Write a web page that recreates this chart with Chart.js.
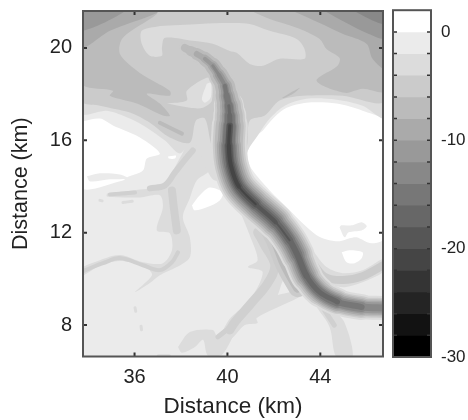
<!DOCTYPE html>
<html><head><meta charset="utf-8">
<script src="https://cdn.jsdelivr.net/npm/chart.js@4"></script>
<style>
html,body{margin:0;padding:0;background:#fff;width:468px;height:420px;overflow:hidden}
.w{position:absolute;filter:blur(.7px)}
</style></head><body>
<div class="w" style="left:0;top:-12px;height:432px;width:390px"><canvas id="map"></canvas></div>
<div class="w" style="left:385px;top:-10px;height:430px;width:83px"><canvas id="bar"></canvas></div>
<script>
const xTicks=[36,40,44], yTicks=[8,12,16,20], barTicks=[0,-10,-20,-30];
const axisTitle="Distance (km)";
const levelTops=[2,0,-2,-4,-6,-8,-10,-12,-14,-16,-18,-20,-22,-24,-26,-28];
const grays=['#ffffff','#ebebeb','#dcdcdc','#cbcbcb','#bbbbbb','#aaaaaa','#999999','#888888','#777777','#676767','#565656','#454545','#343434','#242424','#121212','#000000'];

// contour outlines, all in km
const whiteEast=[[41.52,16.42],[42.04,17.02],[42.55,17.41],[43.41,17.63],[44.70,17.59],[45.82,17.28],[46.8,16.76],[46.8,11.80],[46.21,11.54],[45.56,11.80],[45.26,11.76],[44.83,11.63],[44.27,11.71],[43.84,11.89],[43.24,12.41],[42.55,13.10],[41.82,13.83],[41.09,14.69],[40.88,15.13],[40.88,15.56],[41.18,16.12],[41.52,16.42]];
const whiteWest=[[33.7,16.81],[34.51,16.94],[35.07,16.64],[36.23,16.12],[37.09,15.43],[36.53,15.21],[36.36,14.69],[35.67,14.39],[35.50,14.26],[33.7,13.96],[33.7,16.81]];
const stripeWest=[[33.95,14.44],[34.51,14.57],[35.37,14.52],[35.72,14.35],[34.94,14.31],[34.08,14.22],[33.95,14.44]];
const spotWest=[[37.44,15.30],[37.78,15.34],[37.74,15.21],[37.48,15.21],[37.44,15.30]];
const blobCentre=[[38.47,13.18],[38.81,13.62],[39.24,13.96],[39.80,13.74],[39.67,13.40],[39.11,13.10],[38.59,12.97],[38.47,13.18]];
const lakeEast=[[44.83,12.23],[45.05,11.80],[45.22,12.02],[45.78,12.10],[46.0,12.28],[45.78,12.45],[45.39,12.32],[44.91,12.32],[44.83,12.23]];
const blobSouthEast=[[44.92,11.15],[45.26,11.24],[45.82,11.15],[45.78,10.89],[45.48,10.68],[45.13,10.72],[44.92,11.15]];
const topL2=[[33.7,21.7],[46.8,21.7],[46.8,16.98],[45.82,17.50],[44.70,17.76],[43.41,17.80],[42.47,17.50],[41.82,16.94],[41.30,16.20],[40.88,15.56],[40.53,14.48],[39.46,14.26],[39.03,14.91],[38.81,15.56],[38.47,15.99],[37.95,15.43],[37.31,15.99],[36.53,16.55],[35.80,16.94],[34.81,17.28],[33.7,17.20],[33.7,21.7]];
const topL3=[[33.7,21.7],[46.8,21.7],[46.8,17.72],[44.96,17.93],[43.24,17.93],[42.25,17.72],[41.61,17.07],[40.96,16.85],[40.75,15.56],[39.46,15.56],[39.03,16.94],[38.64,16.85],[38.38,15.90],[37.52,16.12],[36.66,16.76],[35.80,17.20],[34.51,17.50],[33.7,17.72],[33.7,21.7]];
const topHole=[[37.09,20.95],[38.81,21.04],[40.10,21.08],[40.96,21.04],[41.82,20.74],[42.98,20.39],[43.32,19.96],[43.32,19.53],[42.25,19.53],[41.52,19.23],[40.96,19.31],[40.40,19.79],[40.10,19.87],[39.37,20.18],[38.51,20.31],[37.31,20.44],[37.18,20.01],[37.18,19.66],[36.66,19.66],[36.31,20.18],[36.31,20.74],[37.09,20.95]];
const leftL4=[[36.96,21.7],[36.96,21.47],[35.50,20.44],[35.37,19.74],[36.23,18.92],[37.52,18.15],[37.52,17.93],[36.53,18.02],[37.09,17.59],[37.52,17.07],[37.22,17.07],[36.10,17.59],[34.94,17.93],[35.07,18.15],[33.7,18.49],[33.7,21.7],[36.96,21.7]];
const leftL5=[[33.7,21.7],[37.0,21.7],[36.96,21.51],[34.94,20.74],[33.7,20.0],[33.7,21.7]];
const leftL6=[[33.7,21.7],[35.67,21.7],[33.7,20.74],[33.7,21.7]];
const rightL4=[[40.83,21.7],[41.82,21.25],[42.98,20.87],[43.97,20.39],[44.27,19.96],[44.83,19.57],[44.74,19.23],[43.84,18.58],[45.05,18.06],[45.82,18.23],[46.8,18.15],[46.8,21.7],[40.83,21.7]];
const rightL5=[[42.6,21.7],[43.97,21.08],[44.96,20.61],[45.99,20.18],[46.25,19.53],[46.8,19.10],[46.8,21.7],[42.6,21.7]];
const rightL6=[[44.0,21.7],[45.13,21.08],[45.99,20.65],[46.8,20.43],[46.8,21.7],[44.0,21.7]];
const rightL7=[[45.3,21.7],[46.12,21.25],[46.8,21.04],[46.8,21.7],[45.3,21.7]];
const sliverL4=[[42.34,17.84],[43.11,18.28],[42.89,18.06],[42.47,17.84],[42.34,17.84]];
const patchL2=[[37.39,17.59],[38.25,17.72],[38.25,18.15],[39.24,18.71],[39.33,17.72],[38.94,17.41],[38.38,17.41],[37.39,17.59]];
const patchL1=[[39.11,18.45],[39.28,18.49],[39.28,17.85],[39.03,17.63],[38.9,17.80],[39.11,18.45]];
const channelWest=[[34.81,13.70],[36.23,13.87],[36.96,13.96],[37.39,14.26],[37.82,14.99],[38.08,15.47],[38.38,16.07],[39.03,15.99],[39.24,15.13],[39.24,14.69],[38.68,14.26],[38.38,13.49],[38.08,12.67],[38.38,11.80],[38.38,10.94],[37.82,10.51],[37.09,10.16],[36.66,9.82],[36.02,9.43],[36.75,10.16],[36.53,10.46],[35.50,10.77],[34.64,10.64],[33.7,10.12],[33.7,10.46],[34.51,10.81],[35.37,11.03],[36.36,10.72],[37.22,10.68],[37.61,11.24],[37.52,11.98],[36.96,12.10],[37.22,13.10],[37.09,13.62],[36.23,13.53],[34.81,13.57],[34.81,13.70]];
const footSouth=[[37.87,7.05],[38.38,7.70],[39.37,7.79],[39.59,7.49],[40.40,8.52],[40.53,8.65],[40.44,8.0],[39.76,6.7],[39.16,6.67],[38.95,7.36],[38.6,7.05],[38.04,6.8],[37.87,7.05]];
const fanL2=[[40.19,14.05],[40.53,12.97],[40.96,11.89],[41.30,10.81],[40.88,10.51],[41.52,10.29],[40.96,9.08],[40.10,8.27],[39.76,7.53],[40.10,7.36],[40.75,8.0],[41.30,8.09],[41.26,8.31],[43.02,9.17],[43.54,9.52],[42.68,12.10],[41.39,13.62],[40.19,14.05]];
const fanHole=[[42.17,9.30],[42.47,10.03],[42.81,9.52],[42.17,9.30]];
const streamSouth=[[43.84,8.78],[44.40,7.92],[44.70,6.6],[45.39,6.6],[45.05,8.09],[44.53,8.65],[43.84,8.78]];
const armEast=[[43.67,11.24],[44.27,10.51],[44.96,10.25],[45.82,10.38],[46.8,10.9],[46.8,10.38],[45.82,9.86],[44.96,9.64],[44.40,9.82],[43.89,10.38],[43.67,11.24]];

// stream centre lines, all in km
const streamA=[[36.66,13.92],[37.31,14.05],[37.74,14.61],[38.21,15.21],[38.51,15.56]];
const streamB=[[37.61,13.83],[37.69,13.10],[37.82,12.10]];
const streamC=[[33.7,10.3],[34.64,10.68],[35.37,10.90],[36.36,10.59],[37.09,10.38],[37.61,10.72],[37.87,11.15]];
const streamD=[[34.94,13.66],[36.02,13.74]];
const streamE=[[37.09,16.76],[38.04,16.29]];
const streamF=[[41.30,12.02],[41.60,11.46],[42.04,10.59],[41.74,9.82],[40.96,8.87],[40.32,8.13],[40.10,7.79]];
const streamG=[[41.48,12.75],[42.04,11.67],[42.47,10.59],[43.02,9.6]];
const streamH=[[44.18,8.65],[44.6,8.0]];
const streamI=[[43.6,10.8],[44.18,10.1],[44.96,9.95],[45.82,10.12],[46.8,10.64]];
const streamJ=[[39.59,7.49],[40.23,8.0]];
const specks=[[[34.51,13.40],[34.6,13.38]],[[35.5,13.31],[35.9,13.36]],[[36.02,8.75],[36.05,8.6]],[[36.28,7.95],[36.3,7.8]],[[37.02,6.67],[37.5,6.67]]];

// dark ridge: centre line in km, then its contour width per leg, from the leg each level starts at
const ridge=[[38.17,20.0],[38.42,19.87],[38.68,19.74],[39.03,19.53],[39.37,19.23],[39.63,18.84],[39.89,18.36],[39.97,17.93],[40.06,17.50],[40.10,17.07],[40.10,16.63],[40.06,15.77],[40.15,14.91],[40.49,14.0],[41.22,13.23],[42.08,12.45],[42.68,11.67],[43.02,11.03],[43.41,10.12],[43.97,9.43],[44.74,9.0],[45.78,8.78],[46.8,8.74]];
const ridgeL2=[30,33,36,36,36,36,36,34,34,32,30,28,26,24];
const ridgeL3=[12,14,16,18,20,22,24,26,28,30,32,32,32,32,32,30,30,28,26,24,22,20];
const ridgeL4=[8,10,12,14,16,18,20,22,24,26,28,28,28,28,28,26,26,24,22,21,19,17];
const ridgeL5=[6,8,10,12,14,16,18,20,22,24,24,24,24,22,22,20,18,18,16,14];
const ridgeL6=[4,6,8,10,12,14,16,18,20,20,20,20,18,18,16,15,15,13,11];
const ridgeL7=[3,4,6,8,10,12,14,16,16,16,16,14,14,12,12,12,10,7];
const ridgeL8=[4,6,8,10,12,13,13,13,12,11,10,9,9,9,6];
const ridgeL9=[3,5,7,9,10,10,8,7,6,6,5,5];
const ridgeL10=[6,7,7,6,4,2];
const ridgeL11=[3,4,4,2];
const extent=[[33.7,21.7],[46.8,21.7],[46.8,6.5],[33.7,6.5],[33.7,21.7]];

const g=grays;
const area=(d,c,t=.3)=>({type:'scatter',showLine:true,data:d.map(([x,y])=>({x,y})),backgroundColor:c,borderColor:c,borderWidth:0,fill:'shape',tension:t,pointRadius:0});
const stroke=(d,c,w)=>({type:'scatter',showLine:true,data:d.map(([x,y])=>({x,y})),borderColor:c,borderWidth:w,fill:false,tension:.35,pointRadius:0,borderCapStyle:'round',borderJoinStyle:'round'});
const contour=(from,w,c)=>Object.assign(stroke(ridge.slice(from,from+w.length+1),c,w[0]),{segment:{borderWidth:s=>w[s.p0DataIndex]}});
const painted=[
 area(extent,g[1],0),
 area(whiteEast,g[0]),area(whiteWest,g[0]),area(stripeWest,g[1]),area(blobCentre,g[0]),area(lakeEast,g[1]),area(blobSouthEast,g[0]),
 area(channelWest,g[2]),area(footSouth,g[2]),area(fanL2,g[2]),area(fanHole,g[1]),area(streamSouth,g[2]),area(armEast,g[2]),
 ...specks.map(s=>stroke(s,g[2],3)),
 stroke(streamA,'#d0d0d0',6),stroke(streamB,'#d0d0d0',8),stroke(streamC,'#d0d0d0',4),stroke(streamD,'#d0d0d0',4),stroke(streamF,'#d0d0d0',9),stroke(streamH,'#d0d0d0',5),stroke(streamI,g[3],8),stroke(streamJ,'#d0d0d0',5),
 area(topL2,g[2]),area(spotWest,g[0]),area(topL3,g[3]),area(topHole,g[2]),area(patchL2,g[2]),area(patchL1,g[1]),
 area(leftL4,g[4]),area(leftL5,g[5]),area(leftL6,g[6]),area(rightL4,g[4]),area(rightL5,g[5]),area(rightL6,g[6]),area(rightL7,g[7]),area(sliverL4,g[4]),stroke(streamE,g[4],4),
 stroke(streamG,g[3],18),stroke(streamG,g[4],9),
 contour(8,ridgeL2,g[2]),contour(0,ridgeL3,g[3]),contour(0,ridgeL4,g[4]),contour(2,ridgeL5,g[5]),contour(3,ridgeL6,g[6]),contour(4,ridgeL7,g[7]),contour(6,ridgeL8,g[8]),contour(8,ridgeL9,g[9]),contour(10,ridgeL10,g[10]),contour(10,ridgeL11,g[11])
].reverse();

const inkFrame='#555', inkTick='#333', font='"Liberation Sans",Arial,sans-serif';
const mapFrame={id:'mapFrame',afterDatasetsDraw(c){
 const {ctx,chartArea:a,scales:{x,y}}=c;ctx.save();ctx.strokeStyle=inkTick;ctx.lineWidth=2;ctx.beginPath();
 xTicks.forEach(v=>{const p=x.getPixelForValue(v);ctx.moveTo(p,a.bottom);ctx.lineTo(p,a.bottom-4);ctx.moveTo(p,a.top);ctx.lineTo(p,a.top+4);});
 yTicks.forEach(v=>{const p=y.getPixelForValue(v);ctx.moveTo(a.left,p);ctx.lineTo(a.left+4,p);ctx.moveTo(a.right,p);ctx.lineTo(a.right-4,p);});
 ctx.stroke();ctx.strokeStyle=inkFrame;ctx.strokeRect(a.left,a.top,a.right-a.left,a.bottom-a.top);ctx.restore();}};
new Chart(document.getElementById('map'),{data:{datasets:painted},plugins:[mapFrame],options:{
 responsive:true,maintainAspectRatio:false,animation:false,events:[],
 layout:{autoPadding:false,padding:{top:10,right:7,left:0,bottom:0}},
 plugins:{legend:{display:false},tooltip:{enabled:false}},
 scales:{
  x:{type:'linear',min:33.78,max:46.7,grid:{display:false,drawTicks:false},border:{display:false},
   afterBuildTicks:s=>{s.ticks=xTicks.map(value=>({value}));},afterFit:s=>{s.height=63.5;},
   ticks:{color:'#222',font:{family:font,size:20},padding:9,maxRotation:0},
   title:{display:true,text:axisTitle,color:'#222',font:{family:font,size:22.5},padding:{top:3,bottom:0}}},
  y:{type:'linear',min:6.64,max:21.6,grid:{display:false,drawTicks:false},border:{display:false},
   afterBuildTicks:s=>{s.ticks=yTicks.map(value=>({value}));},afterFit:s=>{s.width=83;},
   ticks:{color:'#222',font:{family:font,size:20},padding:11},
   title:{display:true,text:axisTitle,color:'#222',font:{family:font,size:21.5},padding:{top:8,bottom:0}}}
 }}});

const barFrame={id:'barFrame',afterDatasetsDraw(c){
 const {ctx,chartArea:a,scales:{y}}=c;ctx.save();ctx.strokeStyle=inkTick;ctx.lineWidth=1.5;ctx.beginPath();
 levelTops.slice(1).forEach(v=>{const p=y.getPixelForValue(v);ctx.moveTo(a.left,p);ctx.lineTo(a.left+4,p);ctx.moveTo(a.right,p);ctx.lineTo(a.right-4,p);});
 ctx.stroke();ctx.strokeStyle=inkFrame;ctx.lineWidth=2;ctx.strokeRect(a.left,a.top,a.right-a.left,a.bottom-a.top);ctx.restore();}};
new Chart(document.getElementById('bar'),{type:'bar',data:{labels:['dB'],
 datasets:levelTops.map((t,i)=>({data:[[t-2,t]],backgroundColor:grays[i],borderWidth:0,grouped:false,barPercentage:1,categoryPercentage:1}))},
 plugins:[barFrame],options:{responsive:true,maintainAspectRatio:false,animation:false,events:[],
 layout:{autoPadding:false,padding:{top:9.5,left:8,right:0,bottom:63}},
 plugins:{legend:{display:false},tooltip:{enabled:false}},
 scales:{x:{display:false},
  y:{position:'right',min:-30,max:2,grid:{display:false,drawTicks:false},border:{display:false},
   afterBuildTicks:s=>{s.ticks=barTicks.map(value=>({value}));},afterFit:s=>{s.width=37;},
   ticks:{color:'#222',font:{family:font,size:17},padding:10}}}}});
</script></body></html>
